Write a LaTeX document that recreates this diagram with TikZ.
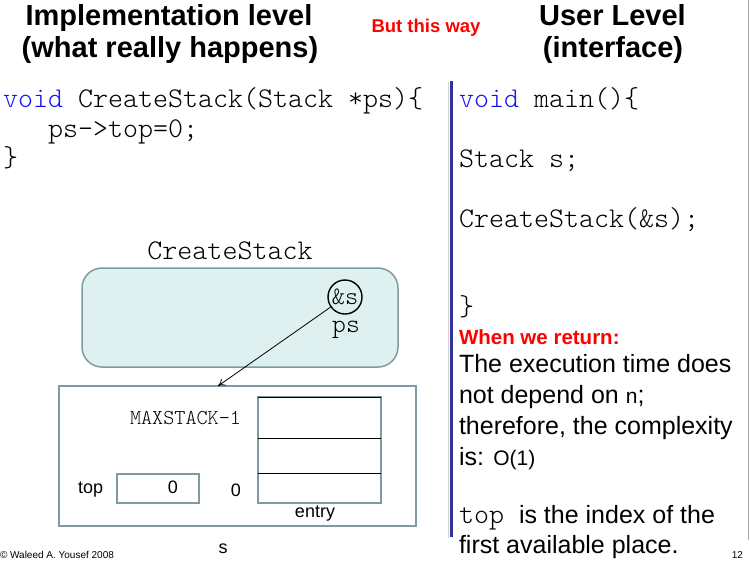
\documentclass[tikz,border=0pt]{standalone}
\usepackage{fontspec}
\setmainfont{Liberation Sans}
\newfontfamily\monof[Scale=1.143]{Latin Modern Mono Light}
\usetikzlibrary{arrows.meta}
\definecolor{frameteal}{RGB}{125,155,160}
\definecolor{fillcyan}{RGB}{222,240,240}
\definecolor{barblue}{RGB}{50,50,150}
\definecolor{kwblue}{RGB}{20,20,240}
\definecolor{slidered}{RGB}{255,0,0}
\newcommand{\setfs}[1]{\fontsize{#1}{#1}\selectfont}
\begin{document}
\begin{tikzpicture}[x=1pt,y=-1pt,
  txt/.style={inner sep=0pt, outer sep=0pt},
  title/.style={txt, anchor=base, font=\bfseries\setfs{29}},
  code/.style={txt, anchor=base west, font=\monof\setfs{25}},
  body/.style={txt, anchor=base west, font=\setfs{25}},
  small/.style={txt, font=\setfs{18}},
  framebox/.style={draw=frameteal, line width=1.5pt, inner sep=0pt, outer sep=0pt}]
\useasboundingbox (0,0) rectangle (750,560);

% decorative slide lines
\draw[gray!35, line width=0.8pt] (448,82) -- (448,538);
\draw[gray!70, line width=0.8pt] (748,0) -- (748,540);
\draw[barblue, line width=3pt] (451,81) -- (451,537);

% titles
\node[title] (t1) at (169,25) {Implementation level};
\node[title] (t2) at (170,57) {(what really happens)};
\node[title] (t3) at (612.5,25) {User Level};
\node[title] (t4) at (613,57) {(interface)};
\node[txt, anchor=base, font=\bfseries\setfs{18.5}, text=slidered] (way) at (426,32) {But this way};

% left code
\node[code] (lc1) at (3,107) {{\color{kwblue}void} CreateStack(Stack *ps)\{};
\node[code] (lc2) at (48,137) {ps->top=0;};
\node[code] (lc3) at (3,166) {\}};

% right code
\node[code] (rc1) at (459,107) {{\color{kwblue}void} main()\{};
\node[code] (rc2) at (459,167) {Stack s;};
\node[code] (rc3) at (459,227) {CreateStack(\&s);};
\node[code] (rc4) at (459,315) {\}};

\node[txt, anchor=base west, font=\bfseries\setfs{20.5}, text=slidered] (ret) at (459,344) {When we return:};
\node[body] (b1) at (459,372) {The execution time does};
\node[body] (b2) at (459,403) {not depend on {\setfs{21}n};};
\node[body] (b3) at (459,434) {therefore, the complexity};
\node[body] (b4) at (459,465) {is: {\setfs{21}O(1)}};
\node[body] (b5) at (459,523) {{\monof top\ }is the index of the};
\node[body] (b6) at (459,553) {first available place.};

% CreateStack frame
\node[txt, anchor=base, font=\monof\setfs{25}] (csl) at (230,259) {CreateStack};
\node[framebox, fill=fillcyan, rounded corners=20pt, minimum width=316pt, minimum height=99pt] (cs) at (240,317.5) {};
\node[draw=black, line width=1.4pt, circle, minimum size=34pt, inner sep=0pt, font=\monof\setfs{22}] (amp) at (345,297) {\&s};
\node[txt, anchor=base, font=\monof\setfs{23}] (ps) at (346,332) {ps};

% struct s
\node[framebox, minimum width=357pt, minimum height=140pt] (sbox) at (237.5,456) {};
\coordinate (tgt) at (218,386);
\draw[black, line width=0.8pt, -{To[length=7pt,width=8pt]}] (amp) -- (tgt);

\node[txt, anchor=base west, font=\monof\setfs{18.5}] (maxs) at (130,424) {MAXSTACK-1};
\node[framebox, minimum width=123pt, minimum height=106pt] (arr) at (319.5,450) {};
\draw[black, line width=1pt] (arr.north west) -- (arr.north east);
\draw[black, line width=1pt] (258,438) -- (381,438);
\draw[black, line width=1pt] (258,473) -- (381,473);

\node[small, anchor=base] (zero) at (236,496) {0};
\node[small, anchor=base] (entry) at (315,517) {entry};
\node[small, anchor=base west] (topl) at (78,493) {top};
\node[framebox, minimum width=82pt, minimum height=29pt] (topbox) at (158,488.5) {};
\node[small, anchor=base] (topv) at (173,493) {0};
\node[small, anchor=base] (sl) at (223,553) {s};

% footer
\node[txt, anchor=base west, font=\setfs{10}] (copy) at (0,558) {© Waleed A. Yousef 2008};
\node[txt, anchor=base east, font=\setfs{10}] (pg) at (743,558) {12};
\end{tikzpicture}
\end{document}
